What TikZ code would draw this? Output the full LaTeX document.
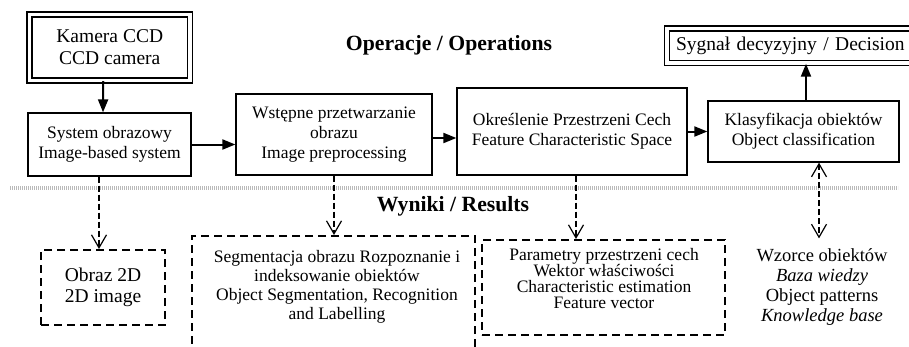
\documentclass[tikz,border=0pt]{standalone}
\usepackage{fontspec}
\setmainfont{Liberation Serif}
\usetikzlibrary{arrows.meta}
\begin{document}
\begin{tikzpicture}[x=1pt,y=-1pt,
  box/.style={draw, line width=1.3pt, inner sep=0pt, align=center, font=\fontsize{17.5}{20}\selectfont},
  dbox/.style={draw, line width=1.4pt, double=white, double distance=3.6pt, inner sep=0pt, align=center, font=\fontsize{19.5}{22}\selectfont},
  dashbox/.style={draw, line width=2pt, dash pattern=on 8pt off 5pt, inner sep=0pt},
  txt/.style={inner sep=0pt, align=center, font=\fontsize{17.5}{20}\selectfont},
  head/.style={inner sep=0pt, font=\fontsize{21.7}{24}\selectfont\bfseries},
  arr/.style={line width=2pt, -{Triangle[length=13pt,width=10pt]}},
  barb/.tip={Straight Barb[length=13pt,width=15pt,line width=1.2pt]},
  darr/.style={line width=1.2pt, dash pattern=on 6pt off 3pt, -barb},
  ddarr/.style={line width=1.2pt, dash pattern=on 6pt off 3pt, barb-barb},
  hatch/.style={draw=gray!55, line width=4pt, dash pattern=on 0.7pt off 1.3pt}
]
\clip (0,0) rectangle (909,346);

% top row
\node[dbox, minimum width=160.5pt, minimum height=66pt] (cam) at (109.75,47.5) {Kamera CCD\\CCD camera};
\node[box, minimum width=163pt, minimum height=63pt] (sys) at (109.5,144.5) {System obrazowy\\Image-based system};
\node[box, minimum width=196pt, minimum height=81pt] (pre) at (334,134.5) {Wstępne przetwarzanie\\obrazu\\Image preprocessing};
\node[box, minimum width=230pt, minimum height=87pt] (fcs) at (572,131.5) {Określenie Przestrzeni Cech\\Feature Characteristic Space};
\node[box, minimum width=191pt, minimum height=61pt] (cls) at (803.5,131.5) {Klasyfikacja obiektów\\Object classification};
\node[dbox, align=left, text width=231pt, inner xsep=9pt, minimum height=34.5pt] (dec) at (791.5,45.75) {Sygnał decyzyjny / Decision};

\node[head] (ops) at (449,45) {Operacje / Operations};

% separator
\draw[hatch] (10,188) -- (898,188);
\node[head] (res) at (453,206) {Wyniki / Results};

% bottom row
\node[dashbox, align=center, font=\fontsize{19.5}{21}\selectfont, minimum width=124pt, minimum height=75pt] (img) at (103,287.5) {Obraz 2D\\2D image};
\node[dashbox, minimum width=283pt, minimum height=140pt] (seg) at (333.5,306) {};
\node[txt, font=\fontsize{17.5}{19}\selectfont] (segtxt) at (337,286.5) {Segmentacja obrazu Rozpoznanie i\\indeksowanie obiektów\\Object Segmentation, Recognition\\and Labelling};
\node[dashbox, minimum width=243pt, minimum height=95pt] (par) at (603.5,287.5) {};
\node[txt, font=\fontsize{17.5}{16}\selectfont] (partxt) at (604,278.5) {Parametry przestrzeni cech\\Wektor właściwości\\Characteristic estimation\\Feature vector};
\node[txt, font=\fontsize{18.5}{20}\selectfont, inner ysep=10pt] (kb) at (822,287) {Wzorce obiektów\\\textit{Baza wiedzy}\\Object patterns\\\textit{Knowledge base}};

% solid connectors
\draw[arr] ([xshift=-6.5pt]cam.south) -- ([xshift=-6.5pt]sys.north);
\draw[arr] (sys.east) -- (sys.east -| pre.west);
\draw[arr] ([yshift=-3.5pt]pre.east) -- ([yshift=-3.5pt]pre.east -| fcs.west);
\draw[arr] (fcs.east) -- (cls.west);
\draw[arr] ([xshift=2.5pt]cls.north) -- ([xshift=2.5pt]cls.north |- dec.south);

% dashed connectors
\draw[darr] ([xshift=-10.5pt]sys.south) -- ([xshift=-10.5pt]sys.south |- img.north);
\draw[darr] (pre.south) -- (pre.south |- seg.north);
\draw[darr] ([xshift=4pt]fcs.south) -- ([xshift=4pt]fcs.south |- par.north);
\draw[ddarr] ([xshift=15.5pt]cls.south) -- ([xshift=15.5pt]cls.south |- kb.north);
\end{tikzpicture}
\end{document}
